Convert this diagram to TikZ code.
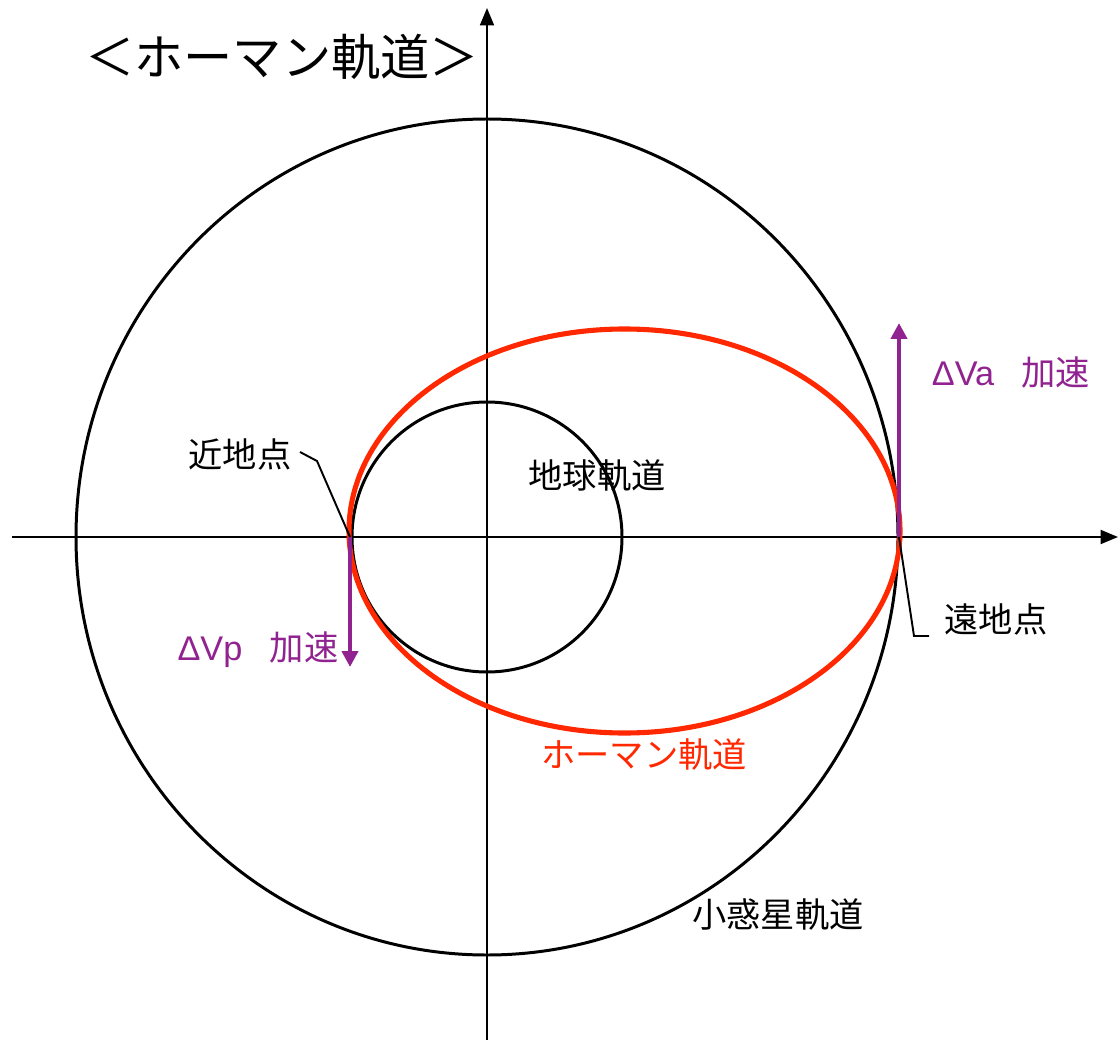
\documentclass[tikz,border=0pt]{standalone}
\usepackage{fontspec}
\setmainfont{Noto Sans CJK JP}
\newfontfamily\latinsans{Liberation Sans}
\usetikzlibrary{arrows.meta}
\definecolor{hred}{RGB}{255,40,0}
\definecolor{dvpurple}{RGB}{145,35,145}
\tikzset{
  axisline/.style={line width=1.2pt,-{Triangle[length=0.35cm,width=0.28cm]}},
  orbit/.style={line width=1.7pt},
  hohmann/.style={line width=2.9pt,draw=hred},
  dvarrow/.style={line width=2.4pt,draw=dvpurple,-{Triangle[length=0.32cm,width=0.32cm]}},
  leader/.style={line width=1.1pt},
  lbl/.style={inner sep=0pt,font=\fontsize{19.5}{22}\selectfont},
  dvlbl/.style={inner sep=0pt,text=dvpurple,font=\fontsize{19.5}{22}\selectfont},
}
\begin{document}
\begin{tikzpicture}[x=0.02cm,y=-0.02cm]
\useasboundingbox (0,0) rectangle (1118,1040);
\fill[white] (0,0) rectangle (1118,1040);
% reference points
\coordinate (O) at (487,537);
\coordinate (xl) at (12,537);
\coordinate (xr) at (1118,537);
\coordinate (yb) at (487,1040);
\coordinate (yt) at (487,8);
\coordinate (peri) at (350,537);
\coordinate (apo) at (899,537);
\coordinate (periend) at (350,667);
\coordinate (apoend) at (899,323);
\coordinate (hc) at (624.5,531);
\coordinate (k0) at (300,452);
\coordinate (k1) at (317,461);
\coordinate (e1) at (914,636);
\coordinate (e2) at (929,636);
% axes
\draw[axisline] (xl) -- (xr);
\draw[axisline] (yb) -- (yt);
% orbits
\draw[orbit] (O) ellipse [x radius=411, y radius=418];
\draw[orbit] (O) circle [radius=135];
\draw[hohmann] (hc) ellipse [x radius=275.5, y radius=202];
% delta-v arrows
\draw[dvarrow] (apo) -- (apoend);
\draw[dvarrow] (peri) -- (periend);
% labels
\node[font=\fontsize{28}{32}\selectfont,inner sep=0pt] (title) at (282,57) {＜ホーマン軌道＞};
\node[lbl] (earth) at (597,476) {地球軌道};
\node[lbl,text=hred] (hlabel) at (644,755) {ホーマン軌道};
\node[lbl] (ast) at (778,915) {小惑星軌道};
\node[lbl] (kinchi) at (240,454) {近地点};
\node[lbl] (enchi) at (996,619) {遠地点};
\node[dvlbl] (dva) at (1011,373) {{\latinsans ΔVa}\hspace{0.55cm}加速};
\node[dvlbl] (dvp) at (258,650) {{\latinsans ΔVp}\hspace{0.55cm}加速};
% leaders
\draw[leader] (k0) -- (k1) -- (peri);
\draw[leader] (apo) -- (e1) -- (e2);
\end{tikzpicture}
\end{document}
